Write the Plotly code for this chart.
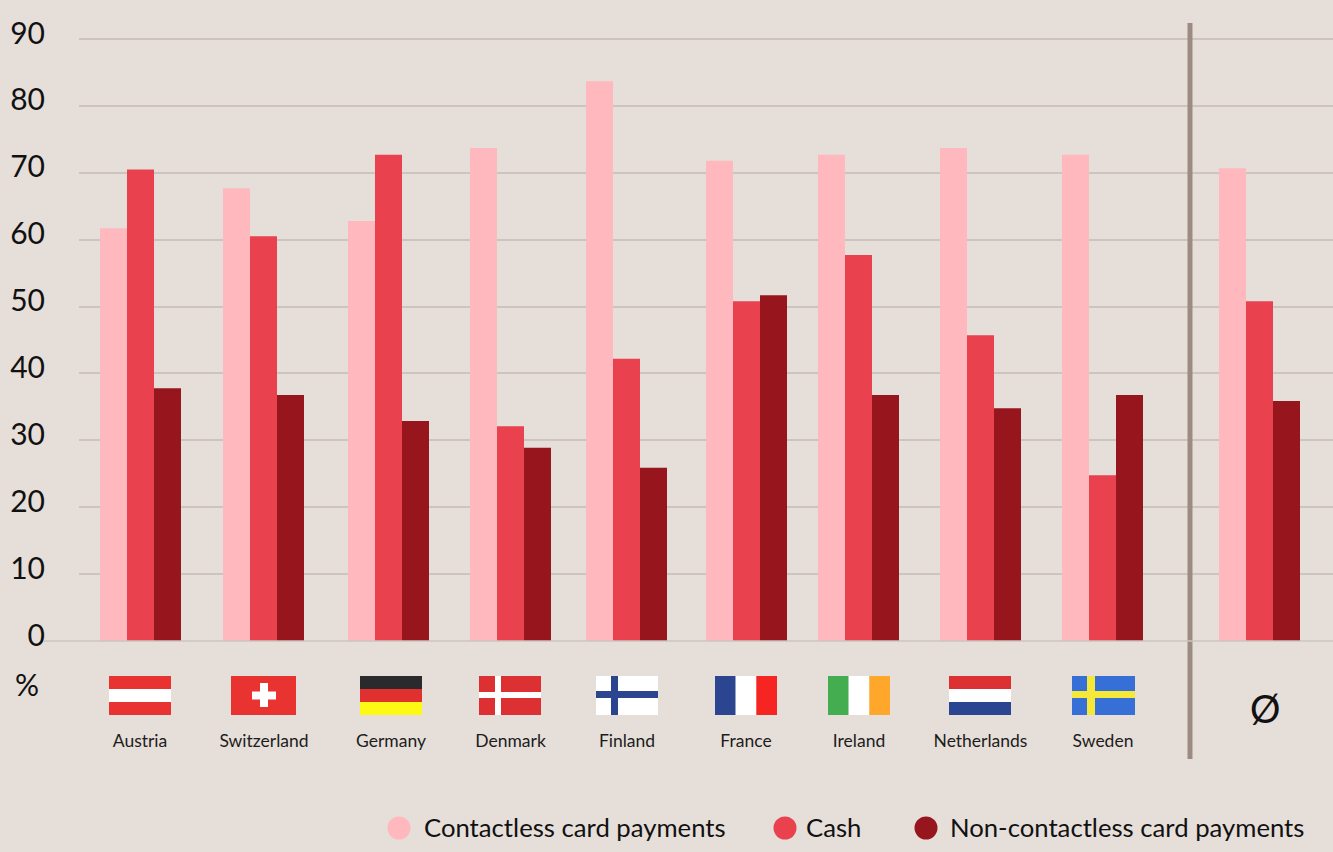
import plotly.graph_objects as go

# ---- data -------------------------------------------------------------
countries = ["Austria", "Switzerland", "Germany", "Denmark", "Finland",
             "France", "Ireland", "Netherlands", "Sweden"]
contactless = [61.7, 67.7, 62.8, 73.7, 83.7, 71.8, 72.7, 73.7, 72.7, 70.7]
cash = [70.5, 60.5, 72.7, 32.1, 42.2, 50.8, 57.7, 45.7, 24.8, 50.8]
non_contactless = [37.8, 36.8, 32.9, 28.9, 25.9, 51.7, 36.8, 34.8, 36.8, 35.9]
y_ticks = [0, 10, 20, 30, 40, 50, 60, 70, 80, 90]
series_names = ["Contactless card payments", "Cash", "Non-contactless card payments"]

# ---- layout constants (the x axis is scaled 1:1 to the page width) ----
W, H = 1333, 852
PLOT_L, PLOT_T, PLOT_B = 79, 19, 641
Y_MAX = 93
group_pos = [140.5, 263.5, 388.5, 510.5, 626.5, 746.5, 858.5, 980.5, 1102.5, 1259.5]
label_pos = [140, 264, 391, 510.5, 627, 746, 859, 980.5, 1103]
BAR_W = 27
FONT = "Lato"
BG, GRID = "#e6ded9", "#cdc4bf"
PINK, RED, DARK = "#ffb8bd", "#e9414e", "#97161e"
FLAG_RED, WHITE, NAVY = "#e83330", "#ffffff", "#2c4591"


def py(p):
    return (PLOT_B - p) / (PLOT_B - PLOT_T)


def px(p):
    return (p - PLOT_L) / (W - PLOT_L)


shapes = []


def rect(x0, y0, x1, y1, color):
    shapes.append(dict(type="rect", xref="paper", yref="paper", x0=px(x0), x1=px(x1),
                       y0=py(y1), y1=py(y0), fillcolor=color, line_width=0, layer="above"))


def hstripes(x0, x1, cols, y0=676, y1=715):
    h = (y1 - y0) / len(cols)
    for i, c in enumerate(cols):
        rect(x0, y0 + i * h, x1, y0 + (i + 1) * h, c)


def vstripes(x0, x1, cols, y0=676, y1=715):
    w = (x1 - x0) / len(cols)
    for i, c in enumerate(cols):
        rect(x0 + i * w, y0, x0 + (i + 1) * w, y1, c)


def cross(x0, x1, base, arm, vx0, vx1, hy0, hy1):
    rect(x0, 676, x1, 715, base)
    rect(vx0, 676, vx1, 715, arm)
    rect(x0, hy0, x1, hy1, arm)


# flags
hstripes(109, 171, [FLAG_RED, WHITE, FLAG_RED])
rect(231, 676, 296, 715, FLAG_RED)
rect(252, 691.5, 276, 699.5, WHITE)
rect(260, 683, 268, 707, WHITE)
hstripes(360, 422, ["#2a2a2c", "#e03030", "#fdf914"])
cross(479, 541, "#dd3032", WHITE, 495, 501, 692, 698)
cross(596, 658, WHITE, NAVY, 611, 618, 691, 698)
vstripes(715, 777, [NAVY, WHITE, "#f72521"])
vstripes(828, 890, ["#43ad4f", WHITE, "#ffa72b"])
hstripes(949, 1011, ["#dd3032", WHITE, NAVY])
cross(1072, 1135, "#3670d6", "#f5e838", 1087, 1095, 691, 698)

# divider and baseline
shapes.append(dict(type="line", xref="paper", yref="paper", x0=px(1190), x1=px(1190), y0=py(759), y1=py(23),
                   line=dict(color="#9c8b82", width=5), layer="above"))
shapes.append(dict(type="line", xref="paper", yref="paper", x0=px(44), x1=1,
                   y0=0, y1=0, line=dict(color=GRID, width=1.5), layer="above"))

# legend
annotations = []
legend_items = [(399, 422, PINK), (785, 804, RED), (926, 948, DARK)]
for name, (cx, tx, col) in zip(series_names, legend_items):
    shapes.append(dict(type="circle", xref="paper", yref="paper", x0=px(cx - 11.5), x1=px(cx + 11.5),
                       y0=py(839.5), y1=py(816.5), fillcolor=col, line_width=0, layer="above"))
    annotations.append(dict(text=name, xref="paper", yref="paper", x=px(tx), y=py(827), xanchor="left",
                            yanchor="middle", showarrow=False, font=dict(size=25.7, color="#111111", family=FONT)))

annotations.append(dict(text="%", xref="paper", yref="paper", x=px(27), y=py(684), xanchor="center", yanchor="middle",
                        showarrow=False, font=dict(size=30, color="#111111", family=FONT)))
annotations.append(dict(text="Ø", xref="paper", yref="paper", x=px(1265), y=py(708), xanchor="center", yanchor="middle",
                        showarrow=False, font=dict(size=38, color="#111111", family=FONT)))

fig = go.Figure()
for name, vals, col, off in zip(series_names, [contactless, cash, non_contactless],
                                [PINK, RED, DARK], [-1.5, -0.5, 0.5]):
    fig.add_trace(go.Bar(x=group_pos, y=vals, name=name, marker=dict(color=col, line_width=0),
                         width=BAR_W, offset=off * BAR_W, showlegend=False))

fig.update_layout(
    width=W, height=H, autosize=False, barmode="overlay",
    paper_bgcolor=BG, plot_bgcolor=BG,
    margin=dict(l=PLOT_L, r=0, t=PLOT_T, b=H - PLOT_B, pad=0),
    font=dict(family=FONT, color="#111111"),
    shapes=shapes, annotations=annotations,
    xaxis=dict(range=[PLOT_L, W], showgrid=False, zeroline=False, showline=False, ticks="",
               tickmode="array", tickvals=label_pos, ticktext=countries, tickangle=0,
               ticklabelstandoff=87, tickfont=dict(size=17.5, color="#1c1c1c", family=FONT)),
    yaxis=dict(range=[0, Y_MAX], tickmode="array", tickvals=y_ticks, showgrid=True, gridcolor=GRID,
               gridwidth=1.5, zeroline=False, showline=False, ticks="",
               ticklabelstandoff=33, ticklabelshift=-6, tickfont=dict(size=30, color="#111111", family=FONT)),
)
fig.write_html("out.html", config={"displayModeBar": False},
               post_script="document.body.style.margin='0';document.body.style.overflow='hidden';")
